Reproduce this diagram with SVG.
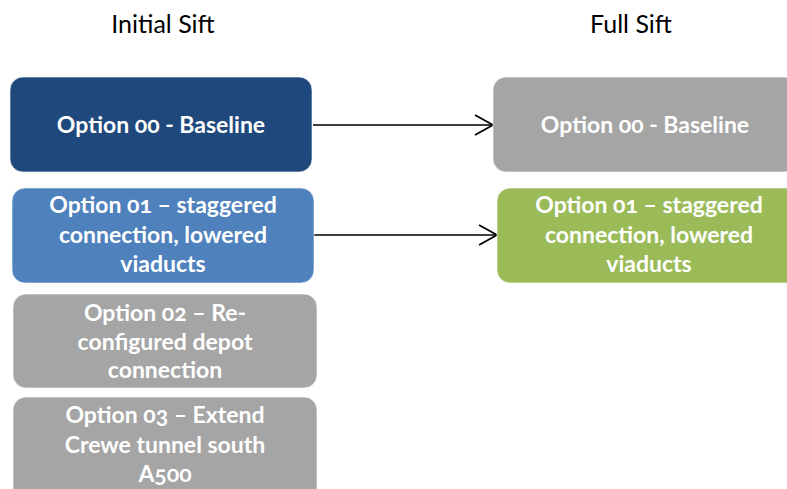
<svg xmlns="http://www.w3.org/2000/svg" width="787" height="489" viewBox="0 0 787 489">
  <style>
    .title { font-family: Lato, "Open Sans", "Liberation Sans", sans-serif; font-size: 25px; fill: #000; text-anchor: middle; }
    .box { stroke: #ffffff; stroke-opacity: 0.6; stroke-width: 1; }
    .label { font-family: Lato, "Open Sans", "Liberation Sans", sans-serif; font-size: 23px; font-weight: bold; fill: #ffffff; text-anchor: middle; font-variant-numeric: oldstyle-nums; }
    .navy { fill: #1f497d; }
    .blue { fill: #4f81bd; }
    .grey { fill: #a5a5a5; }
    .green { fill: #9bbb59; }
    .conn { stroke: #000; stroke-width: 1.6; fill: none; }
  </style>
  <defs>
    <marker id="chevron" markerUnits="userSpaceOnUse" markerWidth="22" markerHeight="24" refX="19" refY="11" orient="auto" viewBox="0 0 22 22">
      <path d="M1,1 L19,11 L1,21" fill="none" stroke="#000" stroke-width="1.8"/>
    </marker>
  </defs>

  <rect width="787" height="489" fill="#ffffff"/>

  <text class="title" x="163" y="33">Initial Sift</text>
  <text class="title" x="631" y="33">Full Sift</text>

  <g id="connectors">
    <line class="conn" x1="313" y1="125" x2="493" y2="125" marker-end="url(#chevron)"/>
    <line class="conn" x1="314" y1="235" x2="497" y2="235" marker-end="url(#chevron)"/>
  </g>

  <g id="initial-00">
    <rect class="box navy" x="10" y="77" width="302" height="95" rx="13"/>
    <text class="label" x="161" y="133">Option 00 - Baseline</text>
  </g>

  <g id="initial-01">
    <rect class="box blue" x="12" y="188" width="302" height="95" rx="13"/>
    <text class="label" x="163" y="213">Option 01 – staggered</text>
    <text class="label" x="163" y="243">connection, lowered</text>
    <text class="label" x="163" y="272">viaducts</text>
  </g>

  <g id="initial-02">
    <rect class="box grey" x="13" y="294" width="304" height="94" rx="13"/>
    <text class="label" x="165" y="321">Option 02 – Re-</text>
    <text class="label" x="165" y="350">configured depot</text>
    <text class="label" x="165" y="378">connection</text>
  </g>

  <g id="initial-03">
    <rect class="box grey" x="13" y="397" width="304" height="110" rx="13"/>
    <text class="label" x="165" y="423">Option 03 – Extend</text>
    <text class="label" x="165" y="453">Crewe tunnel south</text>
    <text class="label" x="165" y="482">A500</text>
  </g>

  <g id="full-00">
    <rect class="box grey" x="493" y="77" width="304" height="95" rx="13"/>
    <text class="label" x="645" y="133">Option 00 - Baseline</text>
  </g>

  <g id="full-01">
    <rect class="box green" x="497" y="188" width="304" height="95" rx="13"/>
    <text class="label" x="649" y="213">Option 01 – staggered</text>
    <text class="label" x="649" y="243">connection, lowered</text>
    <text class="label" x="649" y="272">viaducts</text>
  </g>
</svg>
